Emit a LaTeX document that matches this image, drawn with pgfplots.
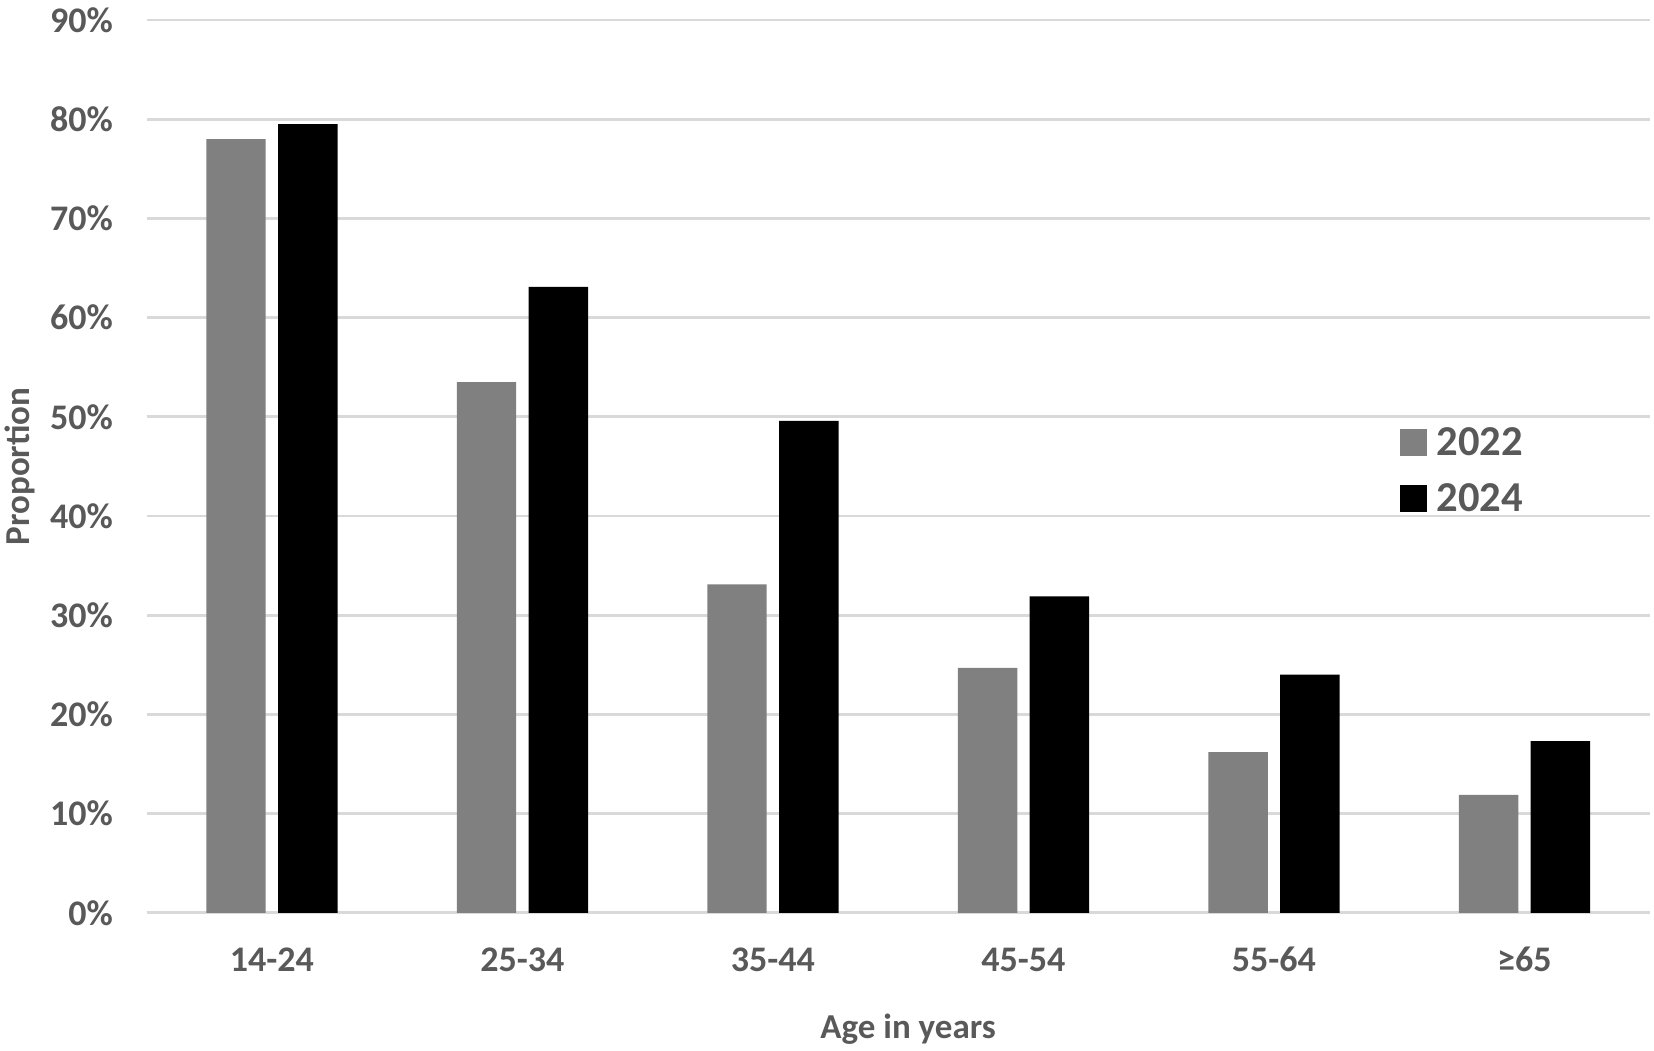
\documentclass[border=0pt]{standalone}
\usepackage{pgfplots}
\pgfplotsset{compat=1.18}
\usepackage{fontspec}
\setmainfont{Carlito}
\definecolor{txt}{HTML}{595959}
\definecolor{gridc}{HTML}{D9D9D9}
\definecolor{g22}{HTML}{808080}
\pgfplotsset{
  sqlegend/.style={legend image code/.code={\fill[##1,draw=none] (0pt,-6.85pt) rectangle (13.7pt,6.85pt);}}
}
\begin{document}
\begin{tikzpicture}
\useasboundingbox (-73.35pt,-68.6pt) rectangle ++(827pt,525pt);
\begin{axis}[
  at={(0,0)}, anchor=south west,
  scale only axis, width=751.5pt, height=446.4pt,
  ybar=6.2pt, bar width=29.7pt,
  xmin=-0.5, xmax=5.5, ymin=0, ymax=90,
  xtick={0,1,2,3,4,5},
  xticklabels={14-24,25-34,35-44,45-54,55-64,≥65},
  ytick={0,10,20,30,40,50,60,70,80,90},
  yticklabels={0\%,10\%,20\%,30\%,40\%,50\%,60\%,70\%,80\%,90\%},
  ymajorgrids, grid style={color=gridc, line width=1.4pt},
  axis line style={draw=none}, major tick length=0pt,
  tick label style={font=\fontsize{18}{20}\selectfont\bfseries, text=txt, inner sep=0pt},
  yticklabel style={anchor=east, xshift=-16.7pt},
  xticklabel style={anchor=base, yshift=-29.45pt},
  xlabel={Age in years}, ylabel={Proportion},
  label style={font=\fontsize{17.5}{20}\selectfont\bfseries, text=txt, inner sep=0pt},
  xlabel style={at={(axis description cs:0.5066,0)}, anchor=base, yshift=-62.75pt},
  ylabel style={at={(axis description cs:-0.0845,0.5)}, anchor=center},
  legend style={draw=none, fill=none, inner sep=0pt, outer sep=0pt,
    at={(0.8336,0.5440)}, anchor=north west,
    row sep=12.6pt, column sep=4.7pt,
    nodes={inner sep=0pt, text=txt, font=\fontsize{21.3}{24}\selectfont\bfseries}},
  legend cell align=left,
]
\addplot[fill=g22, draw=none, sqlegend] coordinates {(0,78.0) (1,53.5) (2,33.1) (3,24.7) (4,16.2) (5,11.9)};
\addlegendentry{2022}
\addplot[fill=black, draw=none, sqlegend] coordinates {(0,79.5) (1,63.1) (2,49.6) (3,31.9) (4,24.0) (5,17.3)};
\addlegendentry{2024}
\end{axis}
\end{tikzpicture}
\end{document}
